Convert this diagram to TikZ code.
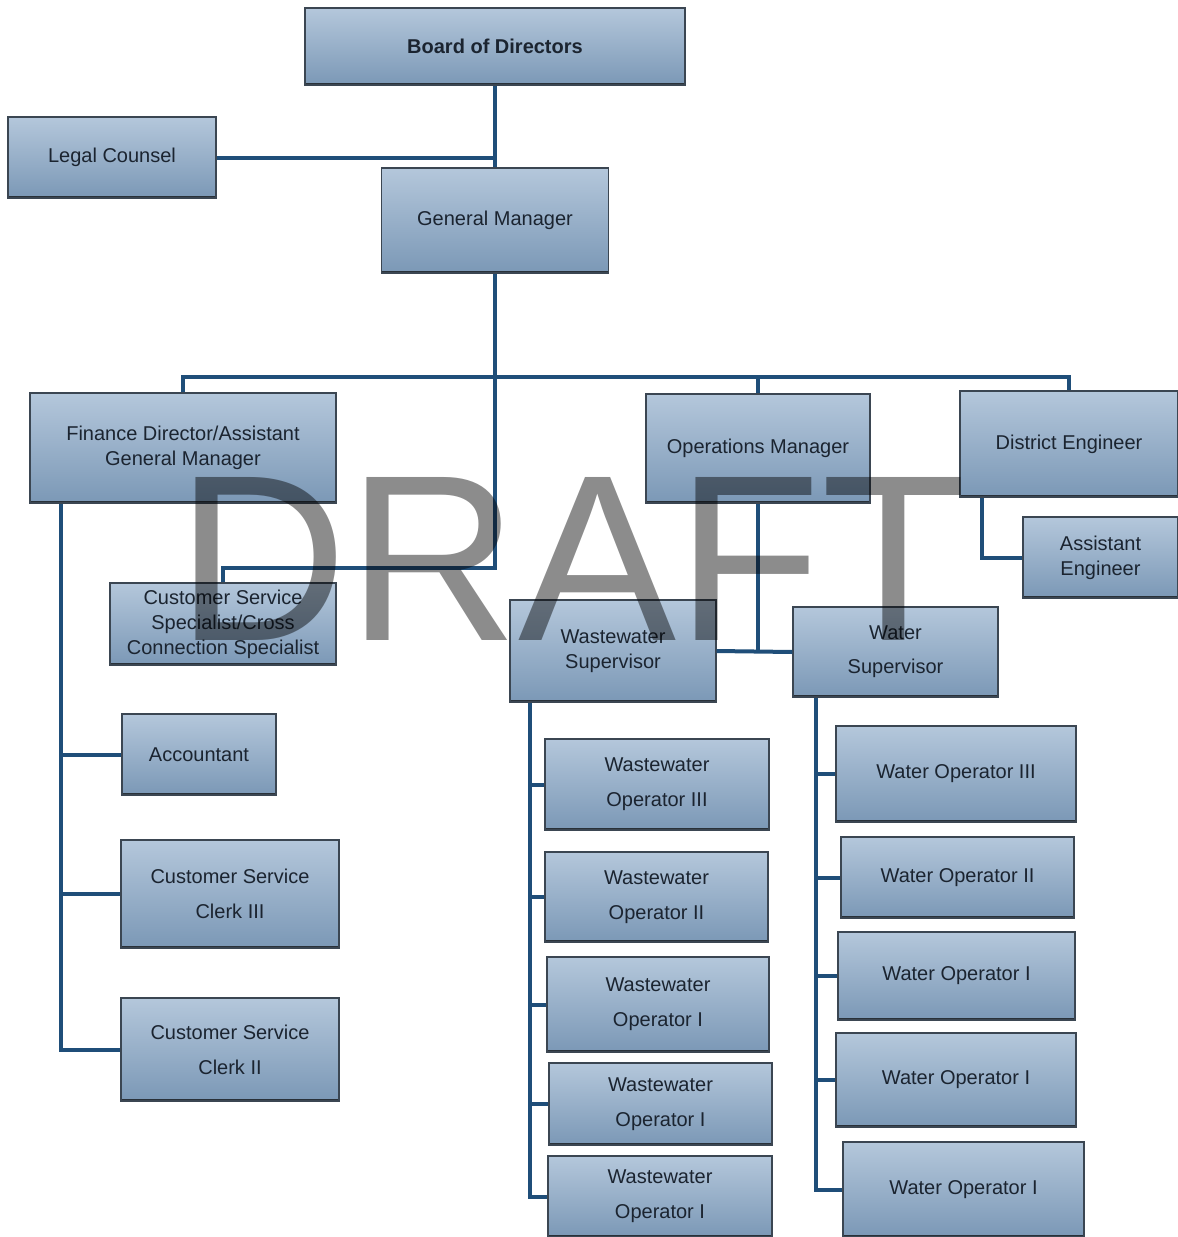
\documentclass[tikz,border=0pt]{standalone}
\usepackage{fontspec}
\setmainfont{Liberation Sans}
\definecolor{linkblue}{HTML}{1F4E79}
\definecolor{boxtop}{HTML}{B4C7DB}
\definecolor{boxbot}{HTML}{7B98B6}
\definecolor{boxedge}{HTML}{3B4652}
\definecolor{boxtext}{HTML}{1B2430}
\tikzset{every picture/.style={line width=0.75pt}}
\tikzset{
  post/.style={draw=boxedge, line width=1.2pt, top color=boxtop, bottom color=boxbot,
    inner sep=0pt, align=center, text=boxtext, font=\fontsize{20}{25}\selectfont,
    path picture={\draw[boxedge!70!black, line width=3.5pt] (path picture bounding box.south west) -- (path picture bounding box.south east);}},
  wh/.style 2 args={minimum width=#1pt, minimum height=#2pt},
  link/.style={draw=linkblue, line width=4pt},
}

\begin{document}
\begin{tikzpicture}[x=1pt,y=1pt,yscale=-1,xscale=1]
\useasboundingbox (0,0) rectangle (1178,1237);
%Shape: Rectangle - top
\node [post, wh={380}{77}, font=\fontsize{20}{25}\selectfont\bfseries] (board) at (495,46.5) {Board of Directors};
\node [post, wh={208}{81}] (legal) at (112,157.5) {Legal Counsel};
\node [post, wh={227}{105}] (gm) at (495,220.5) {General Manager};
%Shape: Rectangle - department heads
\node [post, wh={306}{110}] (fin) at (183,448) {Finance Director/Assistant\\General Manager};
\node [post, wh={224}{109}] (ops) at (758,448.5) {Operations Manager};
\node [post, wh={218}{106}] (de) at (1069,444) {District Engineer};
\node [post, wh={155}{81}] (ae) at (1100.5,557.5) {Assistant\\Engineer};
\node [post, wh={226}{82}] (css) at (223,624) {Customer Service\\Specialist/Cross\\Connection Specialist};
%Shape: Rectangle - supervisors
\node [post, wh={206}{102}] (wws) at (613,651) {Wastewater\\Supervisor};
\node [post, wh={205}{90}] (ws) at (895.5,652) {Water\\[9pt]Supervisor};
%Shape: Rectangle - finance staff
\node [post, wh={154}{81}] (acc) at (199,754.5) {Accountant};
\node [post, wh={218}{108}] (cs3) at (230,894) {Customer Service\\[10pt]Clerk III};
\node [post, wh={218}{103}] (cs2) at (230,1049.5) {Customer Service\\[10pt]Clerk II};
%Shape: Rectangle - wastewater staff
\node [post, wh={224}{91}] (ww3) at (657,784.5) {Wastewater\\[10pt]Operator III};
\node [post, wh={223}{90}] (ww2) at (656.5,897) {Wastewater\\[10pt]Operator II};
\node [post, wh={222}{95}] (ww1a) at (658,1004.5) {Wastewater\\[10pt]Operator I};
\node [post, wh={223}{82}] (ww1b) at (660.5,1104) {Wastewater\\[10pt]Operator I};
\node [post, wh={224}{81}] (ww1c) at (660,1196.5) {Wastewater\\[10pt]Operator I};
%Shape: Rectangle - water staff
\node [post, wh={240}{96}] (wo3) at (956,774) {Water Operator III};
\node [post, wh={233}{81}] (wo2) at (957.5,877.5) {Water Operator II};
\node [post, wh={237}{88}] (wo1a) at (956.5,976) {Water Operator I};
\node [post, wh={240}{94}] (wo1b) at (956,1080) {Water Operator I};
\node [post, wh={241}{95}] (wo1c) at (963.5,1189.5) {Water Operator I};

%Straight Lines - top
\coordinate (bus) at (495,377);
\coordinate (gmturn) at (495,568);
\draw [link] (board.south) -- (gm.north);
\draw [link] (legal.east) -- (legal.east -| gm.north);
\draw [link] (gm.south) -- (bus) -- (gmturn) -| (css.north);
\draw [link] (fin.north) |- (bus) -| (de.north);
\draw [link] (ops.north) -- (ops.north |- bus);
%Straight Lines - engineering
\draw [link] ([xshift=23pt]de.south west) |- (ae.west);
%Straight Lines - operations
\draw [link] (ops.south) -- (ops.south |- wws.east);
\draw [link] (wws.east) -- (ws.west);
%Straight Lines - spines
\coordinate (finspine) at ([xshift=32pt]fin.south west);
\coordinate (wwspine) at ([xshift=21pt]wws.south west);
\coordinate (wspine) at ([xshift=24pt]ws.south west);
\draw [link] (finspine) |- (cs2.west);
\foreach \n in {acc,cs3} \draw [link] (finspine |- \n.west) -- (\n.west);
\draw [link] (wwspine) |- (ww1c.west);
\foreach \n in {ww3,ww2,ww1a,ww1b} \draw [link] (wwspine |- \n.west) -- (\n.west);
\draw [link] (wspine) |- (wo1c.west);
\foreach \n in {wo3,wo2,wo1a,wo1b} \draw [link] (wspine |- \n.west) -- (\n.west);

% Text Node - watermark
\node [anchor=base, inner sep=0pt, text=black, text opacity=0.45, font=\fontsize{237}{237}\selectfont] (draft) at (571,640) {DRAFT};
\end{tikzpicture}
\end{document}
